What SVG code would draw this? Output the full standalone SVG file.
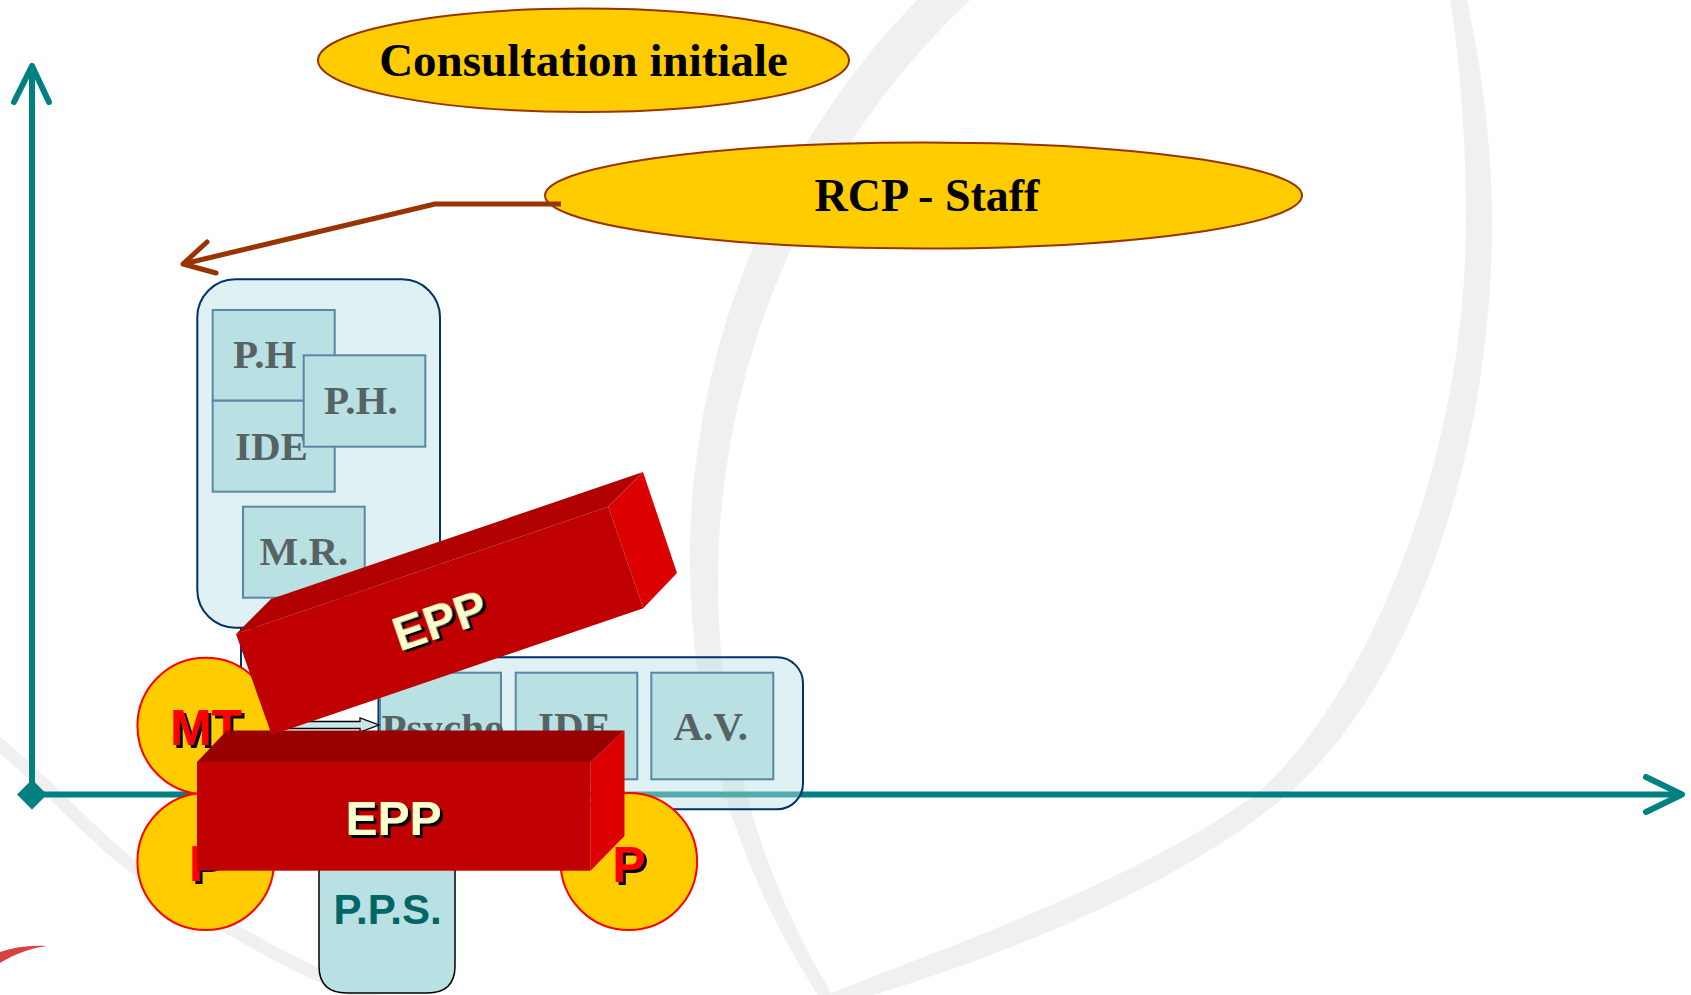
<svg xmlns="http://www.w3.org/2000/svg" width="1691" height="995" viewBox="0 0 1691 995">
  <defs>
    <style>
      .band { fill: #F0F0F0; }
      .axis { fill: none; stroke: #008080; stroke-width: 6; stroke-linecap: round; stroke-linejoin: round; }
      .oval { fill: #FFCC00; stroke: #993300; stroke-width: 2; }
      .oval-t { font-family: "Liberation Serif", "Times New Roman", serif; font-weight: bold; fill: #000; text-anchor: middle; }
      .group { fill: #B9E0E3; fill-opacity: 0.45; stroke: #003366; stroke-width: 2; }
      .box { fill: #B9E0E3; stroke: #5A86A8; stroke-width: 2; }
      .lbl { font-family: "Liberation Serif", "Times New Roman", serif; font-weight: bold; font-size: 41px; fill: #576363; }
      .actor { fill: #FFCC00; stroke: #FF0000; stroke-width: 2; }
      .actor-t { font-family: "Liberation Sans", Arial, sans-serif; font-weight: bold; font-size: 50px; fill: #FF0000; text-anchor: middle; filter: url(#shadow); }
      .epp-t { font-family: "Liberation Sans", Arial, sans-serif; font-weight: bold; font-size: 48px; fill: #FFFFCC; text-anchor: middle; filter: url(#shadow); }
      .front { fill: #C00000; }
      .side { fill: #DD0000; }
      .link { fill: none; stroke: #993300; stroke-width: 5; stroke-linejoin: round; }
    </style>
    <filter id="shadow" x="-20%" y="-20%" width="150%" height="150%">
      <feDropShadow dx="3" dy="3" stdDeviation="0" flood-color="#000" flood-opacity="1"/>
    </filter>
  </defs>

  <rect width="1691" height="995" fill="#FFFFFF"/>

  <!-- watermark swooshes -->
  <g id="background">
    <path class="band" d="M917,0 A804,804 0 0 0 817.8,995 L832.2,995 A800,800 0 0 1 970.2,0 Z"/>
    <path class="band" d="M1467,0 C1480,60 1492,140 1492,220 C1492,480 1398,700 1288,794 C1168,896 973,965 873,995 L826,995 C940,950 1140,880 1256,794 C1360,705 1466,470 1466,220 C1466,140 1460,60 1450,0 Z"/>
    <path d="M-10,737 C45,780 95,840 137,869 S260,950 330,980 L400,1010" fill="none" stroke="#F0F0F0" stroke-width="13"/>
    <path d="M0,952 C15,947 30,945 47,946 C30,948 15,954 0,963 Z" fill="#D94141"/>
  </g>

  <!-- axes -->
  <g id="axes">
    <path class="axis" d="M32,794.5 L32,67"/>
    <path class="axis" d="M14,102 L32,66 L49,102"/>
    <path class="axis" d="M32,794.5 L1680,794.5"/>
    <path class="axis" d="M1646,777 L1682,794.5 L1646,812"/>
    <polygon points="32,779.5 47,794.5 32,809.5 17,794.5" fill="#008080"/>
  </g>

  <g id="consultation">
    <ellipse class="oval" cx="583.5" cy="60.3" rx="265.5" ry="51.7"/>
    <text class="oval-t" x="583.5" y="76" font-size="47">Consultation initiale</text>
  </g>

  <g id="rcp">
    <ellipse class="oval" cx="923.5" cy="195.5" rx="378.5" ry="53"/>
    <text class="oval-t" x="927" y="210.5" font-size="46">RCP - Staff</text>
  </g>

  <!-- hospital team -->
  <g id="hospital-team">
    <rect class="group" x="197.3" y="279.3" width="242.7" height="348.4" rx="38" ry="38"/>
    <g id="ph-1">
      <rect class="box" x="212.7" y="310" width="122" height="90.7"/>
      <text class="lbl" x="233" y="368">P.H</text>
    </g>
    <g id="ide-1">
      <rect class="box" x="212.7" y="400.7" width="122" height="91"/>
      <text class="lbl" x="235" y="460">IDE</text>
    </g>
    <g id="ph-2">
      <rect class="box" x="303.7" y="355.3" width="121.6" height="91.4"/>
      <text class="lbl" x="324" y="414">P.H.</text>
    </g>
    <g id="mr">
      <rect class="box" x="243" y="506.7" width="121.7" height="91"/>
      <text class="lbl" x="259.5" y="565">M.R.</text>
    </g>
  </g>

  <!-- support team -->
  <g id="support-team">
    <rect class="group" x="378.5" y="657.3" width="424.5" height="152" rx="26" ry="26"/>
    <g id="psycho">
      <rect class="box" x="380" y="672.7" width="121" height="106.6"/>
      <text class="lbl" x="381.5" y="742">Psycho</text>
    </g>
    <g id="ide-2">
      <rect class="box" x="515.7" y="672.7" width="121.6" height="106.6"/>
      <text class="lbl" x="538" y="740">IDE</text>
    </g>
    <g id="av">
      <rect class="box" x="651.3" y="672.7" width="122" height="106.6"/>
      <text class="lbl" x="673.5" y="740">A.V.</text>
    </g>
  </g>

  <g id="pps">
    <path d="M319,840 L319,966 Q319,993 347,993 L427,993 Q455,993 455,966 L455,840 Z" fill="#B9E0E3" stroke="#000" stroke-width="1.5"/>
    <text x="387.5" y="924" font-family="'Liberation Sans', Arial, sans-serif" font-weight="bold" font-size="42" fill="#006666" text-anchor="middle">P.P.S.</text>
  </g>

  <!-- connectors -->
  <g id="connectors">
    <path class="link" d="M561,204 L435,204 L183,264"/>
    <path class="link" d="M207,242 L183,264 L216,273" stroke-linecap="round"/>
    <path d="M241,628 L241,720" fill="none" stroke="#003366" stroke-width="2"/>
    <path d="M262,721.5 L360,721.5 L360,718 L379,725 L360,732 L360,728.5 L262,728.5 Z" fill="#C9E6E8" stroke="#000" stroke-width="1.3" stroke-linejoin="miter"/>
  </g>

  <g id="mt">
    <ellipse class="actor" cx="205.7" cy="726" rx="68.3" ry="68.2"/>
    <text class="actor-t" x="206" y="745">MT</text>
  </g>
  <g id="p-left">
    <ellipse class="actor" cx="205.7" cy="861.5" rx="68.3" ry="68.5"/>
    <text class="actor-t" x="205.7" y="881">P</text>
  </g>
  <g id="p-right">
    <ellipse class="actor" cx="628.8" cy="861.5" rx="68.3" ry="68.5"/>
    <text class="actor-t" x="629" y="881.5">P</text>
  </g>

  <!-- flat EPP block -->
  <g id="epp-flat">
    <polygon points="197,762 226.7,730.5 624.5,730.5 590.5,762" fill="#990000"/>
    <polygon class="side" points="590.5,762 624.5,730.5 624.5,836 590.5,870.7"/>
    <rect class="front" x="197" y="762" width="393.5" height="108.7"/>
    <text class="epp-t" x="393.5" y="835">EPP</text>
  </g>

  <!-- tilted EPP block -->
  <g id="epp-tilted">
    <polygon points="236,634 271,599 643,472 608.3,506.7" fill="#B00000"/>
    <polygon class="side" points="608.3,506.7 643,472 677,573 643.3,608.3"/>
    <polygon class="front" points="236,634 608.3,506.7 643.3,608.3 271.7,735"/>
    <text class="epp-t" transform="translate(439.8,621) rotate(-18.9)" x="0" y="16">EPP</text>
  </g>
</svg>
